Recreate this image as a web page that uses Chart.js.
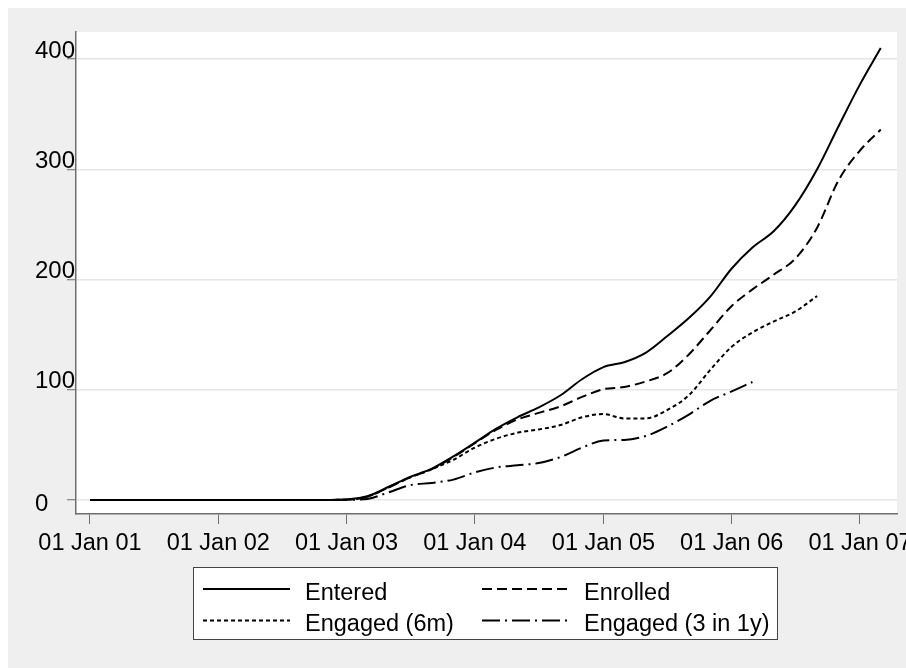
<!DOCTYPE html>
<html>
<head>
<meta charset="utf-8">
<script src="https://cdn.jsdelivr.net/npm/chart.js@4/dist/chart.umd.min.js"></script>
<style>
  html, body { margin: 0; padding: 0; background: #ffffff; }
  canvas { display: block; }
</style>
</head>
<body>
<canvas id="chart" width="906" height="668"></canvas>
<script>
// Cumulative counts by month (first of month)
const months = [
  '2001-01-01', '2002-01-01', '2002-10-01',
  '2003-01-01', '2003-03-01', '2003-05-01', '2003-07-01', '2003-09-01', '2003-11-01',
  '2004-01-01', '2004-03-01', '2004-05-01', '2004-07-01', '2004-09-01', '2004-11-01',
  '2005-01-01', '2005-03-01', '2005-05-01', '2005-07-01', '2005-09-01', '2005-11-01',
  '2006-01-01', '2006-03-01', '2006-05-01', '2006-07-01', '2006-09-01', '2006-11-01',
  '2007-01-01', '2007-03-01'
];
const entered = [
  0, 0, 0,
  0.5, 3.5, 12, 21, 28.5, 39.5,
  52, 64.5, 75, 84, 95, 109.5,
  120.5, 125, 133.5, 148.5, 165, 184.5,
  210, 229, 244, 267.5, 300, 339,
  377, 410
];
const enrolled = [
  0, 0, 0,
  0.3, 3, 11.5, 20.5, 28, 39,
  51.5, 63.5, 73, 79, 85, 93.5,
  100.5, 102.5, 107.5, 115, 132, 154,
  176, 191, 204.5, 219, 247, 290,
  317, 336
];
const engaged6m = [
  0, 0, 0,
  0.3, 3, 11.5, 20.5, 28, 36.5,
  47.5, 55.5, 61, 64, 68, 75,
  78, 74, 74, 81.5, 95, 118,
  139, 152, 162, 171, 185, null,
  null, null
];
const engaged3in1y = [
  0, 0, 0,
  0.2, 1, 7, 13.5, 15.5, 18.5,
  25, 29.5, 31.5, 33.5, 39, 47.5,
  54, 54.5, 58, 66.5, 77.5, 90,
  98.5, 107, null, null, null, null,
  null, null
];
const seriesNames = ['Entered', 'Enrolled', 'Engaged (6m)', 'Engaged (3 in 1y)'];

// Axis ticks
const yearStarts = ['2001-01-01', '2002-01-01', '2003-01-01', '2004-01-01', '2005-01-01', '2006-01-01', '2007-01-01'];
const yearLabels = ['01 Jan 01', '01 Jan 02', '01 Jan 03', '01 Jan 04', '01 Jan 05', '01 Jan 06', '01 Jan 07'];
const yTicks = [0, 100, 200, 300, 400];
const yLabels = ['0', '100', '200', '300', '400'];

// days since 01 Jan 2001
const ORIGIN = Date.UTC(2001, 0, 1);
function dayNum(s) {
  const [y, m, d] = s.split('-').map(Number);
  return Math.round((Date.UTC(y, m - 1, d) - ORIGIN) / 86400000);
}
const monthDays = months.map(dayNum);
const yearDays = yearStarts.map(dayNum);

function pts(values) {
  return values.map((v, i) => ({ x: monthDays[i], y: v }));
}

const FONT = "'Liberation Sans', Arial, Helvetica, sans-serif";
const AXIS_GREY = '#6e6e6e';
const dashes = [[], [10, 5], [4, 3], [18, 5, 2, 5]];
const seriesValues = [entered, enrolled, engaged6m, engaged3in1y];

const datasets = seriesValues.map((vals, i) => ({
  label: seriesNames[i],
  data: pts(vals),
  borderColor: '#000000',
  borderWidth: 2,
  borderDash: dashes[i],
  pointRadius: 0,
  fill: false,
  spanGaps: false,
  cubicInterpolationMode: 'monotone'
}));

// Page and plot-region backgrounds
const backdrop = {
  id: 'backdrop',
  beforeDraw(chart) {
    const { ctx, chartArea: a } = chart;
    ctx.save();
    ctx.fillStyle = '#ffffff';
    ctx.fillRect(0, 0, chart.width, chart.height);
    ctx.fillStyle = '#efefef';
    ctx.fillRect(8, 8, chart.width - 8, chart.height - 8);
    ctx.fillStyle = '#ffffff';
    ctx.fillRect(a.left, a.top, a.right - a.left, a.bottom - a.top);
    ctx.restore();
  }
};

// Y-axis value labels, left aligned in the margin
const yAxisLabels = {
  id: 'yAxisLabels',
  afterDraw(chart) {
    const { ctx } = chart;
    const ys = chart.scales.y;
    ctx.save();
    ctx.fillStyle = '#000000';
    ctx.font = '24px ' + FONT;
    ctx.textAlign = 'left';
    ctx.textBaseline = 'alphabetic';
    yTicks.forEach((v, i) => {
      const py = ys.getPixelForValue(v);
      const base = v === 0 ? py + 11 : py - 1.5;
      ctx.fillText(yLabels[i], 35, base);
    });
    ctx.restore();
  }
};

// Boxed two-column key below the plot
const keyBox = {
  id: 'keyBox',
  afterDraw(chart) {
    const { ctx } = chart;
    const box = { x: 193, y: 567, w: 585, h: 73 };
    ctx.save();
    ctx.fillStyle = '#ffffff';
    ctx.fillRect(box.x, box.y, box.w, box.h);
    ctx.strokeStyle = '#444444';
    ctx.lineWidth = 1;
    ctx.strokeRect(box.x + 0.5, box.y + 0.5, box.w - 1, box.h - 1);
    const cols = [{ x0: 203, x1: 290, tx: 305 }, { x0: 482, x1: 570, tx: 584 }];
    const rows = [{ ly: 589, ty: 600 }, { ly: 620.5, ty: 631 }];
    ctx.font = '23.5px ' + FONT;
    ctx.textAlign = 'left';
    ctx.textBaseline = 'alphabetic';
    chart.data.datasets.forEach((ds, i) => {
      const c = cols[i % 2];
      const r = rows[Math.floor(i / 2)];
      ctx.strokeStyle = '#000000';
      ctx.lineWidth = 2;
      ctx.setLineDash(ds.borderDash || []);
      ctx.beginPath();
      ctx.moveTo(c.x0, r.ly);
      ctx.lineTo(c.x1, r.ly);
      ctx.stroke();
      ctx.setLineDash([]);
      ctx.fillStyle = '#000000';
      ctx.fillText(ds.label, c.tx, r.ty);
    });
    ctx.restore();
  }
};

new Chart(document.getElementById('chart'), {
  type: 'line',
  data: { datasets },
  plugins: [backdrop, yAxisLabels, keyBox],
  options: {
    responsive: false,
    animation: false,
    devicePixelRatio: 1,
    layout: { padding: { left: 0, top: 32, right: 9, bottom: 0 } },
    plugins: { legend: { display: false }, tooltip: { enabled: false } },
    scales: {
      x: {
        type: 'linear',
        min: -39.8,
        max: 2296.3,
        afterBuildTicks(scale) { scale.ticks = yearDays.map(v => ({ value: v })); },
        afterFit(scale) {
          scale.height = 154;
          scale.paddingLeft = 0;
          scale.paddingRight = 0;
        },
        grid: { drawOnChartArea: false, drawTicks: true, tickLength: 10, tickColor: AXIS_GREY, tickWidth: 1 },
        border: { display: true, color: AXIS_GREY, width: 1.5 },
        ticks: {
          color: '#000000',
          font: { family: FONT, size: 23.5 },
          padding: 5,
          maxRotation: 0,
          autoSkip: false,
          callback(value) {
            const i = yearDays.indexOf(value);
            return i >= 0 ? yearLabels[i] : '';
          }
        }
      },
      y: {
        type: 'linear',
        min: -12.7,
        max: 424.5,
        afterBuildTicks(scale) { scale.ticks = yTicks.map(v => ({ value: v })); },
        afterFit(scale) {
          scale.width = 76;
          scale.paddingTop = 0;
          scale.paddingBottom = 0;
        },
        grid: { color: '#e6e6e6', lineWidth: 1.5, drawTicks: true, tickLength: 9, tickColor: AXIS_GREY, tickWidth: 1 },
        border: { display: true, color: AXIS_GREY, width: 1.5 },
        ticks: { display: false }
      }
    }
  }
});
</script>
</body>
</html>
